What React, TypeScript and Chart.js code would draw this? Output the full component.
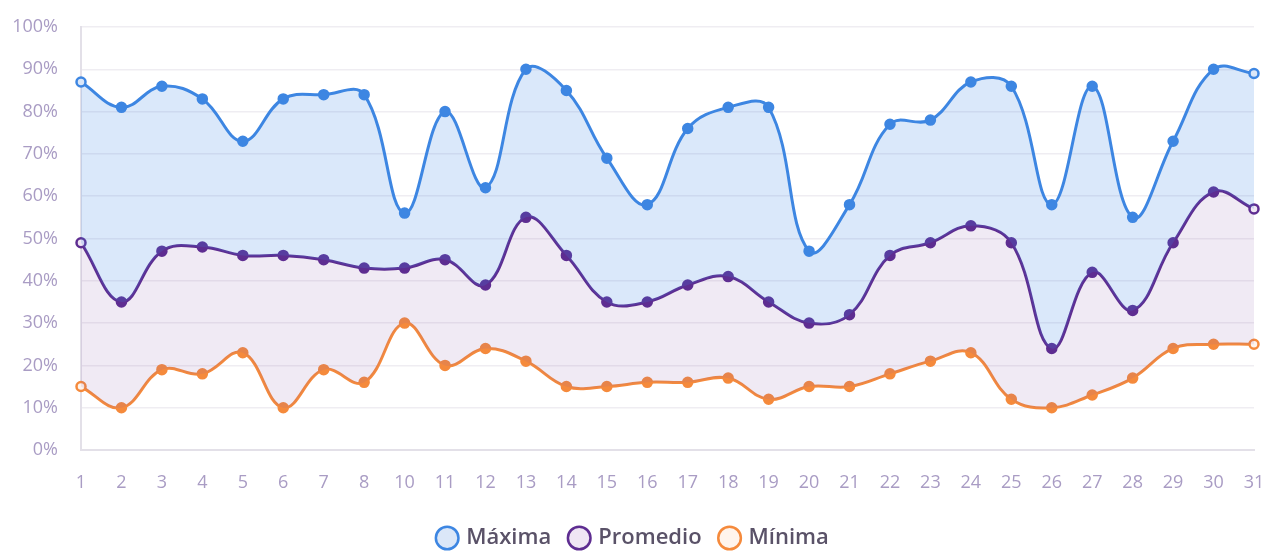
import React, { useEffect, useRef } from "react";
import { Chart, registerables } from "chart.js";

Chart.register(...registerables);

const days = ["1","2","3","4","5","6","7","8","10","11","12","13","14","15","16","17","18","19","20","21","22","23","24","25","26","27","28","29","30","31"];
const maxima = [87,81,86,83,73,83,84,84,56,80,62,90,85,69,58,76,81,81,47,58,77,78,87,86,58,86,55,73,90,89];
const promedio = [49,35,47,48,46,46,45,43,43,45,39,55,46,35,35,39,41,35,30,32,46,49,53,49,24,42,33,49,61,57];
const minima = [15,10,19,18,23,10,19,16,30,20,24,21,15,15,16,16,17,12,15,15,18,21,23,12,10,13,17,24,25,25];
const seriesNames = ["Máxima", "Promedio", "Mínima"];

const BLUE = "#3d86e2";
const PURPLE = "#5e2d91";
const ORANGE = "#f58a3c";
const BLUE_FILL = "rgba(61,134,226,0.19)";
const PURPLE_FILL = "rgba(140,90,170,0.13)";
const ORANGE_FILL = "rgba(245,138,60,0.08)";
const FONT = "'Open Sans', 'Noto Sans', sans-serif";

function pointBg(n: number, solid: string, light: string) {
  const arr: string[] = [];
  for (let i = 0; i < n; i++) arr.push(i === 0 || i === n - 1 ? light : solid);
  return arr;
}

export default function App() {
  const ref = useRef<HTMLCanvasElement>(null);
  useEffect(() => {
    document.body.style.margin = "0";
    const ctx = ref.current!;
    const n = days.length;
    const common = {
      tension: 0.4,
      borderWidth: 3,
      pointRadius: 4.5,
      pointBorderWidth: 2.5,
    };
    const chart = new Chart(ctx, {
      type: "line",
      data: {
        labels: days,
        datasets: [
          {
            label: seriesNames[0],
            data: maxima,
            borderColor: BLUE,
            backgroundColor: BLUE_FILL,
            pointBackgroundColor: pointBg(n, BLUE, "#dbe7f8"),
            pointBorderColor: BLUE,
            fill: "+1",
            ...common,
          },
          {
            label: seriesNames[1],
            data: promedio,
            borderColor: PURPLE,
            backgroundColor: PURPLE_FILL,
            pointBackgroundColor: pointBg(n, PURPLE, "#efe6f4"),
            pointBorderColor: PURPLE,
            fill: "+1",
            ...common,
          },
          {
            label: seriesNames[2],
            data: minima,
            borderColor: ORANGE,
            backgroundColor: ORANGE_FILL,
            pointBackgroundColor: pointBg(n, ORANGE, "#fff4ec"),
            pointBorderColor: ORANGE,
            fill: false,
            ...common,
          },
        ],
      },
      options: {
        animation: false,
        responsive: false,
        maintainAspectRatio: false,
        layout: { padding: { top: 0, right: 0, left: 0, bottom: -2 } },
        plugins: {
          tooltip: { enabled: false },
          legend: {
            position: "bottom",
            labels: {
              usePointStyle: true,
              pointStyle: "circle",
              boxWidth: 16,
              boxHeight: 16,
              padding: 20,
              color: "#5a5268",
              font: { family: FONT, size: 22, weight: "600" as any },
            },
          },
        },
        scales: {
          x: {
            grid: { display: false, drawTicks: false },
            border: { display: true, color: "#e3e0e8", width: 2 },
            ticks: {
              color: "#a99cc4",
              padding: 22,
              maxRotation: 0,
              autoSkip: false,
              font: { family: FONT, size: 18 },
            },
            afterFit: (scale: any) => {
              scale.paddingRight = 14;
              scale.height = 57;
            },
          },
          y: {
            min: 0,
            max: 100,
            grid: { color: "#efedf2", lineWidth: 1.5, drawTicks: false },
            border: { display: true, color: "#e3e0e8", width: 2 },
            ticks: {
              stepSize: 10,
              color: "#a99cc4",
              padding: 23,
              font: { family: FONT, size: 18 },
              callback: (v: any) => v + "%",
            },
            afterFit: (scale: any) => {
              scale.width = 81;
              scale.paddingTop = 27;
            },
          },
        },
      },
    });
    return () => chart.destroy();
  }, []);
  return (
    <div style={{ width: 1268, height: 557 }}>
      <canvas ref={ref} width={1268} height={557} style={{ display: "block" }} />
    </div>
  );
}
